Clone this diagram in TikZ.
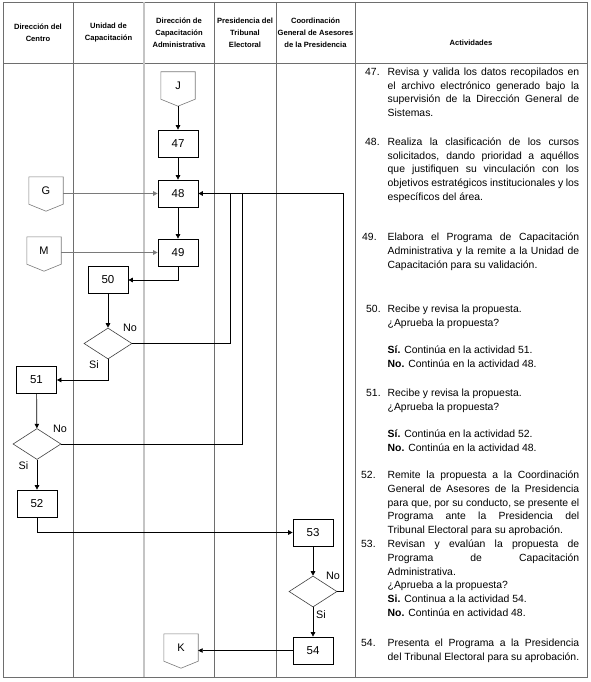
\documentclass[tikz,border=0pt]{standalone}
\usepackage{fontspec}
\setmainfont{Liberation Sans}
\usepackage{xcolor}
\usepackage{tikz}
\usetikzlibrary{arrows.meta,positioning,calc,shapes.geometric}
\definecolor{tblgray}{HTML}{6E6E6E}
\definecolor{tbllight}{HTML}{C4C4C4}
\definecolor{flowgray}{HTML}{7A7A7A}

\begin{document}
\begin{tikzpicture}[
 x=1pt, y=-1pt,
 >={Triangle[length=4.5pt,width=4.5pt]},
 hdr/.style={font=\fontsize{7.6}{12}\selectfont\bfseries,align=center,inner sep=0pt},
 stepbox/.style={draw,line width=0.7pt,minimum width=40pt,minimum height=27pt,inner sep=0pt,font=\fontsize{11.5}{13}\selectfont},
 decision/.style={diamond,draw=black!75,line width=0.6pt,minimum width=48pt,minimum height=31pt,inner sep=0pt},
 offpage/.style={minimum width=34pt,minimum height=27pt,inner sep=0pt,font=\fontsize{11}{13}\selectfont},
 lbl/.style={font=\fontsize{10.8}{12}\selectfont,inner sep=0pt},
 actnum/.style={anchor=base west,inner sep=0pt,font=\fontsize{10.4}{13.75}\selectfont},
 acttext/.style={anchor=base west,inner sep=0pt,text width=191.5pt,align=justify,font=\fontsize{10.4}{13.75}\selectfont},
 flow/.style={->,line width=0.7pt}
]
\useasboundingbox (0,0) rectangle (590,682);
% table frame and lanes
\draw[tblgray,line width=0.8pt] (3,2) rectangle (587,677);
\draw[tblgray,line width=0.8pt] (3,63) -- (587,63);
\foreach \x in {73,214,276,355} \draw[tblgray,line width=0.8pt] (\x,2) -- (\x,677);
\draw[tbllight,line width=1.4pt] (144,2) -- (144,677);
\node[hdr] (h1) at (38,32.5) {Dirección del\\Centro};
\node[hdr] (h2) at (108.5,32.5) {Unidad de\\Capacitación};
\node[hdr] (h3) at (179,33) {Dirección de\\Capacitación\\Administrativa};
\node[hdr] (h4) at (245,33) {Presidencia del\\Tribunal\\Electoral};
\node[hdr] (h5) at (315.5,33) {Coordinación\\General de Asesores\\de la Presidencia};
\node[hdr] (h6) at (471,43) {Actividades};
% flow
\node[offpage] (J) at (178,85.5) {J};
\node[stepbox] (s47) at (178,143.5) {47};
\node[stepbox] (s48) at (178,193.5) {48};
\node[stepbox] (s49) at (178,252.5) {49};
\node[offpage] (G) at (46,190.5) {G};
\node[offpage] (M) at (44,250.5) {M};
\node[stepbox] (s50) at (108,280) {50};
\node[decision] (d50) at (108,343.5) {};
\node[stepbox] (s51) at (36.5,380) {51};
\node[decision] (d51) at (37,444) {};
\node[stepbox] (s52) at (37,503.5) {52};
\node[stepbox] (s53) at (313,532.5) {53};
\node[decision] (d53) at (313,591.5) {};
\node[stepbox] (s54) at (313,650.5) {54};
\node[offpage] (K) at (181,647.5) {K};
\foreach \c in {J,G,M,K}
 \draw[flowgray,line width=0.6pt] (\c.north west) -- (\c.north east) -- (\c.south east)
  -- ([yshift=-7pt]\c.south) -- (\c.south west) -- cycle;
\node[lbl] (no50) at (130,328) {No};
\node[lbl] (si50) at (94,365) {Si};
\node[lbl] (no51) at (60,429) {No};
\node[lbl] (si51) at (23.5,466) {Si};
\node[lbl] (no53) at (333,576) {No};
\node[lbl] (si53) at (321,615) {Si};
\draw[flow] ([yshift=-7pt]J.south) -- (s47);
\draw[flow] (s47) -- (s48);
\draw[flow] (s48) -- (s49);
\draw[flow,flowgray] (s48.west -| G.east) -- (s48.west);
\draw[flow,flowgray] (s49.west -| M.east) -- (s49.west);
\draw[flow] (s49.south) |- (s50.east);
\draw[flow] (s50) -- (d50);
\draw[flow] (d50.south) |- (s51.east);
\draw[flow] (s51) -- (d51);
\draw[flow] (d51) -- (s52);
\draw[flow] (s52.south) |- (s53.west);
\draw[flow] (s53) -- (d53);
\draw[flow] (d53) -- (s54);
\draw[flow] (s54.west) -- (s54.west -| K.east);
% returns to 48
\coordinate (fb1) at (230,0);
\coordinate (fb2) at (242,0);
\coordinate (fb3) at (343,0);
\draw[line width=0.7pt] (d50.east) -| (fb1 |- s48.east);
\draw[line width=0.7pt] (d51.east) -| (fb2 |- s48.east);
\draw[flow] (d53.east) -| (fb3 |- s48.east) -- (s48.east);
% activities
\foreach \n/\x/\y in {47/365/75.5,48/365/145.5,49/362/240.5,50/366/312.5,51/366/396.5,52/361/478.5,53/361/547.5,54/361/646.5}
 \node[actnum] (n\n) at (\x,\y) {\n.};
\node[acttext] (a47) at (387.5,75.5) {Revisa y valida los datos recopilados en\linebreak el archivo electrónico generado bajo la\linebreak supervisión de la Dirección General de\linebreak Sistemas.};
\node[acttext] (a48) at (387.5,145.5) {Realiza la clasificación de los cursos\linebreak solicitados, dando prioridad a aquéllos\linebreak que justifiquen su vinculación con los\linebreak objetivos estratégicos institucionales y los\linebreak específicos del área.};
\node[acttext] (a49) at (387.5,240.5) {Elabora el Programa de Capacitación\linebreak Administrativa y la remite a la Unidad de\linebreak Capacitación para su validación.};
\node[acttext] (a50) at (387.5,312.5) {Recibe y revisa la propuesta.\par ¿Aprueba la propuesta?\par\vskip\baselineskip \textbf{Sí.} Continúa en la actividad 51.\par \textbf{No.} Continúa en la actividad 48.};
\node[acttext] (a51) at (387.5,396.5) {Recibe y revisa la propuesta.\par ¿Aprueba la propuesta?\par\vskip\baselineskip \textbf{Sí.} Continúa en la actividad 52.\par \textbf{No.} Continúa en la actividad 48.};
\node[acttext] (a52) at (387.5,478.5) {Remite la propuesta a la Coordinación\linebreak General de Asesores de la Presidencia\linebreak para que, por su conducto, se presente el\linebreak Programa ante la Presidencia del\linebreak Tribunal Electoral para su aprobación.};
\node[acttext] (a53) at (387.5,547.5) {Revisan y evalúan la propuesta de\linebreak Programa de Capacitación\linebreak Administrativa.\par ¿Aprueba a la propuesta?\par \textbf{Si.} Continua a la actividad 54.\par \textbf{No.} Continúa en actividad 48.};
\node[acttext] (a54) at (387.5,646.5) {Presenta el Programa a la Presidencia\linebreak del Tribunal Electoral para su aprobación.};
\end{tikzpicture}
\end{document}
